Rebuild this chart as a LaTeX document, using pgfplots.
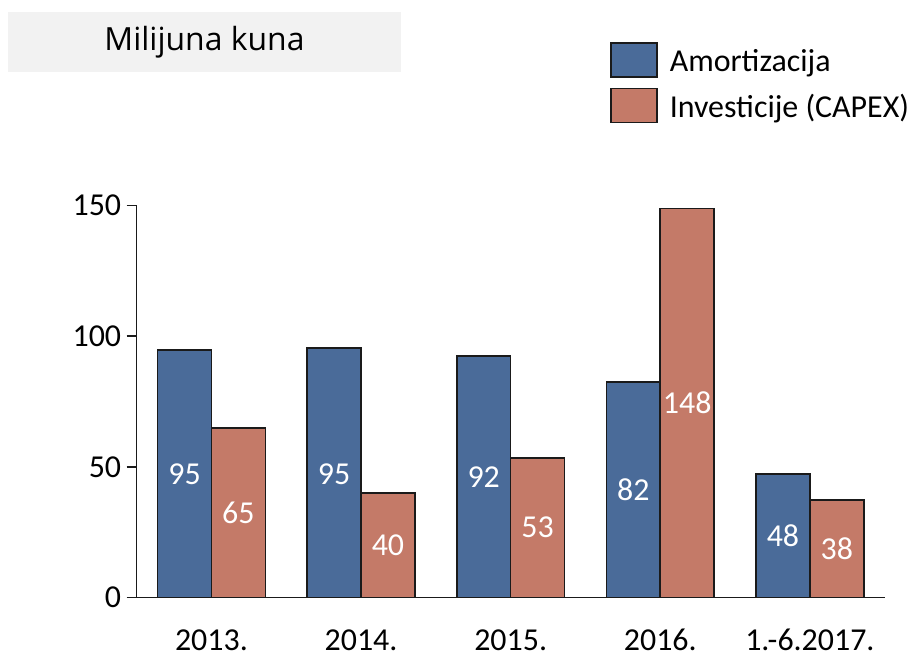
\documentclass[border=0pt]{standalone}
\usepackage{pgfplots}
\pgfplotsset{compat=1.18}
\usepackage{fontspec}
\setmainfont{Carlito}
\newfontfamily\titlefont{Open Sans}
\definecolor{amblue}{RGB}{74,107,153}
\definecolor{capex}{RGB}{196,122,104}
\definecolor{edge}{RGB}{26,26,26}
\definecolor{titlebg}{RGB}{242,242,242}
\newcommand{\bigf}{\fontsize{32}{38}\selectfont}
\begin{document}
\begin{tikzpicture}
\begin{axis}[name=ax, scale only axis, width=750pt, height=393pt,
  xmin=-0.5, xmax=4.5, ymin=0, ymax=150,
  axis lines=left, axis line style={-, line width=1.6pt, color=edge},
  xtick={0,...,4}, xticklabels={2013.,2014.,2015.,2016.,1.-6.2017.},
  ytick={0,50,100,150},
  x tick style={draw=none},
  y tick style={line width=1.6pt, color=edge},
  major tick length=10pt, tick align=outside,
  /pgf/number format/assume math mode=true,
  tick label style={font=\bigf},
  xticklabel style={inner sep=0pt, anchor=base, yshift=-43pt},
  yticklabel style={xshift=-2pt},
  clip=false,
  legend style={at={(axis description cs:0.633,1.417)}, anchor=north west,
    draw=none, fill=none, font=\bigf, inner sep=0pt, row sep=10pt,
    /tikz/every odd column/.append style={column sep=10pt},
    cells={anchor=west}},
  legend image code/.code={\draw[#1, line width=1.6pt] (0pt,-16pt) rectangle (46pt,18pt);},
]
\addplot[ybar, bar width=0.36, bar shift=-0.18, fill=amblue, draw=edge, line width=1.6pt]
  coordinates {(0,94.7) (1,95.4) (2,92.4) (3,82.4) (4,47.3)};
\addlegendentry{Amortizacija}
\addplot[ybar, bar width=0.36, bar shift=0.18, fill=capex, draw=edge, line width=1.6pt]
  coordinates {(0,64.9) (1,40) (2,53.4) (3,148.9) (4,37.4)};
\addlegendentry{Investicije (CAPEX)}
\addplot[forget plot, draw=none, mark=none,
  nodes near coords, point meta=explicit symbolic, nodes near coords align=center,
  every node near coord/.append style={text=white, font=\bigf, anchor=center}]
  coordinates {(-0.18,47.3)[95] (0.82,47.3)[95] (1.82,46.2)[92] (2.82,41.2)[82] (3.82,23.7)[48]};
\addplot[forget plot, draw=none, mark=none,
  nodes near coords, point meta=explicit symbolic, nodes near coords align=center,
  every node near coord/.append style={text=white, font=\bigf, anchor=center}]
  coordinates {(0.18,32.4)[65] (1.18,20)[40] (2.18,26.7)[53] (3.18,74.4)[148] (4.18,18.7)[38]};
\node[fill=titlebg, minimum width=394pt, minimum height=60pt, inner sep=0pt,
  font=\titlefont\bigf] at (axis description cs:0.0907,1.417) {Milijuna kuna};
\end{axis}
\path[use as bounding box] ([shift={(-137pt,-55pt)}]ax.south west) rectangle ([shift={(24pt,206pt)}]ax.north east);
\end{tikzpicture}
\end{document}
